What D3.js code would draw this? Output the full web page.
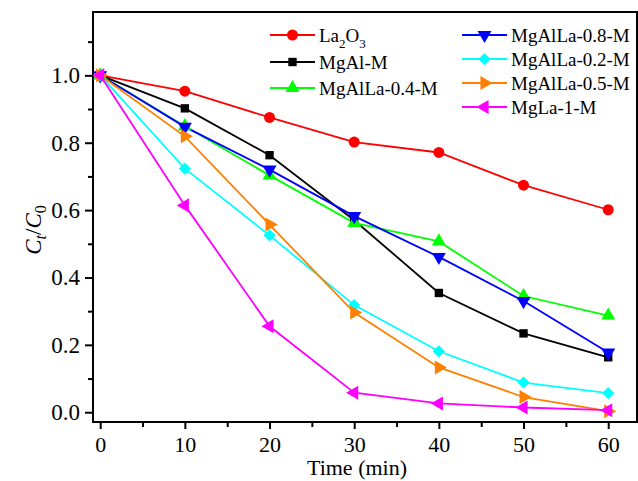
<!DOCTYPE html>
<html>
<head>
<meta charset="utf-8">
<script src="https://cdn.jsdelivr.net/npm/d3@7"></script>
<style>
  body { margin: 0; background: #fff; }
  text { font-family: "Liberation Serif", "Times New Roman", serif; fill: #000; }
</style>
</head>
<body>
<div id="chart"></div>
<script>
// data
const times = [0, 10, 20, 30, 40, 50, 60];
const seriesNames = ["La2O3", "MgAl-M", "MgAlLa-0.4-M", "MgAlLa-0.8-M", "MgAlLa-0.2-M", "MgAlLa-0.5-M", "MgLa-1-M"];
const la2o3 = [1.0, 0.953, 0.875, 0.802, 0.771, 0.674, 0.601];
const mgAl = [1.0, 0.902, 0.763, 0.570, 0.354, 0.234, 0.163];
const mgAlLa04 = [1.0, 0.849, 0.703, 0.562, 0.507, 0.345, 0.287];
const mgAlLa08 = [1.0, 0.847, 0.720, 0.582, 0.461, 0.330, 0.177];
const mgAlLa02 = [1.0, 0.723, 0.525, 0.318, 0.181, 0.088, 0.057];
const mgAlLa05 = [1.0, 0.819, 0.557, 0.296, 0.133, 0.045, 0.003];
const mgLa1 = [1.0, 0.614, 0.255, 0.058, 0.026, 0.014, 0.006];
const yTicks = [0.0, 0.2, 0.4, 0.6, 0.8, 1.0];
const xTicks = [0, 10, 20, 30, 40, 50, 60];

const width = 638, height = 481;
const margin = {top: 12, left: 93, right: 1, bottom: 59};

const svg = d3.select("#chart").append("svg")
    .attr("width", width)
    .attr("height", height);

const xScale = d3.scaleLinear()
    .domain([-0.85, 63.4])
    .range([margin.left, width - margin.right]);

const yScale = d3.scaleLinear()
    .domain([-0.029, 1.188])
    .range([height - margin.bottom, margin.top]);

/* axes: minor ticks first, then major with labels */
svg.append("g")
    .attr("transform", `translate(0,${height - margin.bottom})`)
    .call(d3.axisBottom(xScale).tickValues([5, 15, 25, 35, 45, 55]).tickSize(5).tickFormat(""))
    .call(g => g.select(".domain").remove())
    .selectAll("line").attr("stroke-width", 2);

svg.append("g")
    .attr("transform", `translate(0,${height - margin.bottom})`)
    .call(d3.axisBottom(xScale).tickValues(xTicks).tickSize(7).tickPadding(7).tickFormat(d3.format("d")))
    .call(g => g.select(".domain").remove())
    .call(g => g.selectAll("line").attr("stroke-width", 2))
    .call(g => g.selectAll("text").style("font-size", "22px"));

svg.append("g")
    .attr("transform", `translate(${margin.left},0)`)
    .call(d3.axisLeft(yScale).tickValues([0.1, 0.3, 0.5, 0.7, 0.9, 1.1]).tickSize(5).tickFormat(""))
    .call(g => g.select(".domain").remove())
    .selectAll("line").attr("stroke-width", 2);

svg.append("g")
    .attr("transform", `translate(${margin.left},0)`)
    .call(d3.axisLeft(yScale).tickValues(yTicks).tickSize(8).tickPadding(5).tickFormat(d3.format(".1f")))
    .call(g => g.select(".domain").remove())
    .call(g => g.selectAll("line").attr("stroke-width", 2))
    .call(g => g.selectAll("text").style("font-size", "23px"));

// frame
svg.append("rect")
    .attr("x", margin.left)
    .attr("y", margin.top)
    .attr("width", width - margin.left - margin.right)
    .attr("height", height - margin.top - margin.bottom)
    .attr("fill", "none")
    .attr("stroke", "#000")
    .attr("stroke-width", 2);

/* series */
const series = [
    {name: seriesNames[0], values: la2o3, color: "#ff0000", shape: d3.symbolCircle, size: 95, rot: 0},
    {name: seriesNames[1], values: mgAl, color: "#000000", shape: d3.symbolSquare, size: 70, rot: 0},
    {name: seriesNames[2], values: mgAlLa04, color: "#00ff00", shape: d3.symbolTriangle, size: 85, rot: 0},
    {name: seriesNames[3], values: mgAlLa08, color: "#0000ff", shape: d3.symbolTriangle, size: 85, rot: 180},
    {name: seriesNames[4], values: mgAlLa02, color: "#00ffff", shape: d3.symbolSquare, size: 75, rot: 45},
    {name: seriesNames[5], values: mgAlLa05, color: "#ff8000", shape: d3.symbolTriangle, size: 85, rot: 90},
    {name: seriesNames[6], values: mgLa1, color: "#ff00ff", shape: d3.symbolTriangle, size: 85, rot: -90}
];

const line = d3.line()
    .x((d, i) => xScale(times[i]))
    .y(d => yScale(d));

const plot = svg.append("g");

series.forEach(function(s) {
    plot.append("path")
        .attr("d", line(s.values))
        .attr("fill", "none")
        .attr("stroke", s.color)
        .attr("stroke-width", 1.8);
});

series.forEach(function(s) {
    plot.selectAll(null)
        .data(s.values)
        .enter()
        .append("path")
        .attr("d", d3.symbol().type(s.shape).size(s.size))
        .attr("transform", (d, i) => `translate(${xScale(times[i])},${yScale(d)}) rotate(${s.rot})`)
        .attr("fill", s.color);
});

/* legend */
const legendPos = [
    {x: 270, y: 35}, {x: 270, y: 62}, {x: 270, y: 88},
    {x: 462, y: 35}, {x: 462, y: 59}, {x: 462, y: 83}, {x: 462, y: 107}
];

series.forEach(function(s, i) {
    const p = legendPos[i];
    const g = svg.append("g").attr("transform", `translate(${p.x},${p.y})`);
    g.append("line")
        .attr("x1", 0).attr("x2", 45)
        .attr("stroke", s.color)
        .attr("stroke-width", 1.8);
    g.append("path")
        .attr("d", d3.symbol().type(s.shape).size(s.size))
        .attr("transform", `translate(22.5,0) rotate(${s.rot})`)
        .attr("fill", s.color);
    const t = g.append("text")
        .attr("x", 49)
        .attr("y", 7)
        .style("font-size", "19px");
    if (i === 0) {
        t.append("tspan").text("La");
        t.append("tspan").style("font-size", "13px").attr("dy", 6).text("2");
        t.append("tspan").attr("dy", -6).text("O");
        t.append("tspan").style("font-size", "13px").attr("dy", 6).text("3");
    } else {
        t.text(s.name);
    }
});

/* axis labels */
svg.append("text")
    .attr("x", 357)
    .attr("y", 475)
    .attr("text-anchor", "middle")
    .style("font-size", "22px")
    .text("Time (min)");

const yl = svg.append("text")
    .attr("transform", "translate(41,230) rotate(-90)")
    .attr("text-anchor", "middle")
    .style("font-size", "23px")
    .attr("font-style", "italic");
yl.append("tspan").text("C");
yl.append("tspan").style("font-size", "16px").attr("dy", 5).text("t");
yl.append("tspan").attr("dy", -5).attr("font-style", "normal").text("/");
yl.append("tspan").text("C");
yl.append("tspan").style("font-size", "16px").attr("dy", 5).attr("font-style", "normal").text("0");
</script>
</body>
</html>
